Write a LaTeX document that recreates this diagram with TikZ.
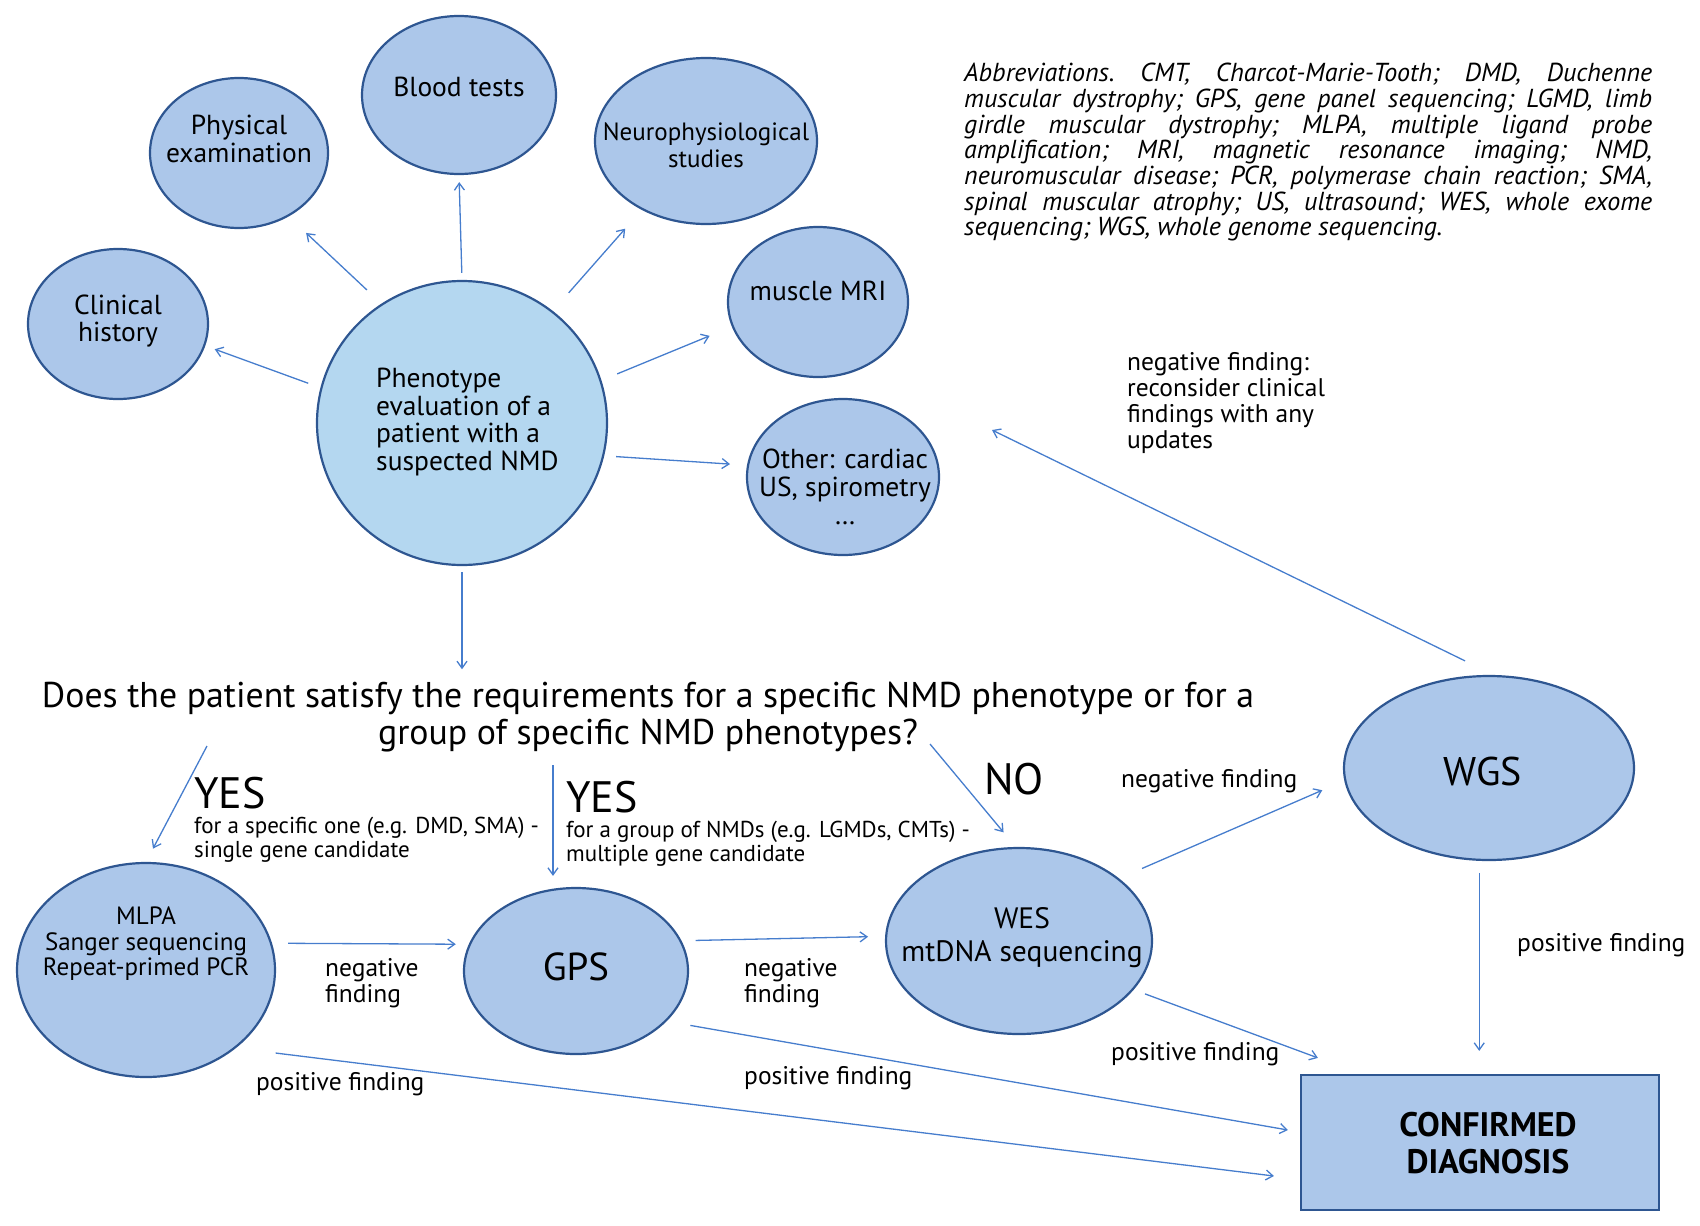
\documentclass[tikz,border=0pt]{standalone}
\usepackage{fontspec}
\setmainfont{PT Sans}
\usetikzlibrary{shapes.geometric,arrows.meta,calc}
\definecolor{bubfill}{RGB}{172,199,234}
\definecolor{phenofill}{RGB}{180,215,240}
\definecolor{bubline}{RGB}{46,86,145}
\definecolor{arrcol}{RGB}{70,125,205}
\begin{document}
\begin{tikzpicture}[x=1pt,y=-1pt,
  bub/.style={ellipse,draw=bubline,line width=2.2pt,fill=bubfill,inner sep=0pt},
  lbl/.style={align=center,inner sep=0pt,font=\fontsize{27.5}{27.7}\selectfont},
  lblleft/.style={align=left,anchor=west,inner sep=0pt,font=\fontsize{27.5}{27.7}\selectfont},
  note/.style={align=left,anchor=west,inner sep=0pt,font=\fontsize{25.5}{25.8}\selectfont},
  small/.style={align=left,anchor=west,inner sep=0pt,font=\fontsize{23}{24}\selectfont},
  big/.style={anchor=west,inner sep=0pt,font=\fontsize{44}{48}\selectfont},
  arr/.style={draw=arrcol,line width=1.3pt,-{Straight Barb[length=7pt,width=10pt]}}]
\useasboundingbox (0,0) rectangle (1700,1226);

% bubbles
\node[bub,minimum width=180,minimum height=150] (clin) at (118,324) {};
\node[bub,minimum width=178,minimum height=150] (phys) at (239,153) {};
\node[bub,minimum width=194,minimum height=158] (blood) at (459,95) {};
\node[bub,minimum width=222,minimum height=166] (neuro) at (706,141) {};
\node[bub,minimum width=180,minimum height=150] (mri) at (818,302) {};
\node[bub,minimum width=192,minimum height=156] (other) at (843,477) {};
\node[bub,fill=phenofill,minimum width=290,minimum height=284] (pheno) at (462,423) {};
\node[bub,minimum width=258,minimum height=214] (mlpa) at (146,970) {};
\node[bub,minimum width=224,minimum height=166] (gps) at (576,971) {};
\node[bub,minimum width=266,minimum height=186] (wes) at (1019,941) {};
\node[bub,minimum width=290,minimum height=184] (wgs) at (1489,768) {};
\node[draw=bubline,line width=2.2pt,fill=bubfill,minimum width=358,minimum height=135,inner sep=0pt] (conf) at (1480,1142.5) {};

% bubble texts
\node[lbl] (tclin) at (118,321) {Clinical\\history};
\node[lbl] (tphys) at (239,139) {Physical\\examination};
\node[lbl] (tblood) at (459,87) {Blood tests};
\node[lbl,font=\fontsize{25}{27}\selectfont] (tneuro) at (706,145) {Neurophysiological\\studies};
\node[lbl] (tmri) at (818,291) {muscle MRI};
\node[lbl] (tother) at (845,487) {Other: cardiac\\US, spirometry\\\dots};
\node[lblleft] (tpheno) at (376,422) {Phenotype\\evaluation of a\\patient with a\\suspected NMD};
\node[lbl,font=\fontsize{25}{25.5}\selectfont] (tmlpa) at (146,944) {MLPA\\Sanger sequencing\\Repeat-primed PCR};
\node[lbl,font=\fontsize{39}{40}\selectfont] (tgps) at (576,967) {GPS};
\node[lbl,font=\fontsize{29.5}{33}\selectfont] (twes) at (1022,938) {WES\\mtDNA sequencing};
\node[lbl,font=\fontsize{40}{44}\selectfont] (twgs) at (1483,771) {WGS};
\node[lbl,font=\bfseries\fontsize{34}{37}\selectfont] (tconf) at (1488,1143) {CONFIRMED\\DIAGNOSIS};

% question and answers
\node[align=center,inner sep=0pt,font=\fontsize{35.8}{37}\selectfont] (q) at (648,717.5)
  {Does the patient satisfy the requirements for a specific NMD phenotype or for a\\group of specific NMD phenotypes?};
\node[big] (yes1) at (194,793) {YES};
\node[small] (yes1t) at (194,839.5) {for a specific one (e.g. DMD, SMA) -\\single gene candidate};
\node[big] (yes2) at (566,797) {YES};
\node[small] (yes2t) at (566,843.5) {for a group of NMDs (e.g. LGMDs, CMTs) -\\multiple gene candidate};
\node[big] (no) at (984,779) {NO};

% abbreviations
\node[anchor=north west,inner sep=0pt,text width=688pt,align=justify,
  font=\itshape\fontsize{26}{25.7}\selectfont] (abbr) at (964,63)
  {\frenchspacing\hyphenpenalty=10000 Abbreviations. CMT, Charcot-Marie-Tooth; DMD, Duchenne\linebreak
   muscular dystrophy; GPS, gene panel sequencing; LGMD, limb\linebreak
   girdle muscular dystrophy; MLPA, multiple ligand probe\linebreak
   amplification; MRI, magnetic resonance imaging; NMD,\linebreak
   neuromuscular disease; PCR, polymerase chain reaction; SMA,\linebreak
   spinal muscular atrophy; US, ultrasound; WES, whole exome\linebreak
   sequencing; WGS, whole genome sequencing.};

% edge labels
\node[note] (recon) at (1127,403) {negative finding:\\reconsider clinical\\findings with any\\updates};
\node[note] (neg1) at (325,983.5) {negative\\finding};
\node[note] (neg2) at (744,983.5) {negative\\finding};
\node[note] (neg3) at (1121,781) {negative finding};
\node[note] (pos1) at (256,1084) {positive finding};
\node[note] (pos2) at (744,1078) {positive finding};
\node[note] (pos3) at (1111,1054) {positive finding};
\node[note] (pos4) at (1517,945) {positive finding};

% coordinates for free ends
\coordinate (y1s) at (207,746);
\coordinate (y2s) at (553,765);
\coordinate (ns) at (930,744);
\coordinate (back) at (992,430);

% connectors from phenotype
\draw[arr,shorten <=13,shorten >=10] (pheno.166) -- (clin.-14);
\draw[arr,shorten <=20,shorten >=24] (pheno.124) -- (phys.-52);
\draw[arr,shorten <=7,shorten >=7] (pheno.90) -- (blood.-90);
\draw[arr,shorten <=24,shorten >=25] (pheno.51) -- (neuro.-133);
\draw[arr,shorten <=17,shorten >=24] (pheno.17) -- (mri.-164);
\draw[arr,shorten <=12,shorten >=17] (pheno.-13) -- (other.173);
\draw[arr,shorten <=6,shorten >=13] (pheno.south) -- (pheno.south |- q.north);

% decision connectors
\draw[arr,shorten >=15] (y1s) -- (mlpa.90);
\draw[arr,shorten >=11] (y2s) -- (y2s |- gps.north);
\draw[arr,shorten >=19] (ns) -- (wes.92);

% test chain
\draw[arr,shorten <=16,shorten >=13] (mlpa.12) -- (gps.166);
\draw[arr,shorten <=14,shorten >=17] (gps.16) -- (wes.178);
\draw[arr,shorten <=25,shorten >=24] (wes.32) -- (wgs.-175);
\draw[arr,shorten <=12] (wes.-23) -- ($(conf.north west)+(18,-16)$);
\draw[arr,shorten <=24] (gps.-29) -- ($(conf.west)+(-12,-12.5)$);
\draw[arr,shorten <=40] (mlpa.-41) -- ($(conf.west)+(-26,33.5)$);
\draw[arr,shorten <=12,shorten >=23] (wgs.-96) -- (wgs.-96 |- conf.north);
\draw[arr,shorten <=32] (wgs.87) -- (back);
\end{tikzpicture}
\end{document}
